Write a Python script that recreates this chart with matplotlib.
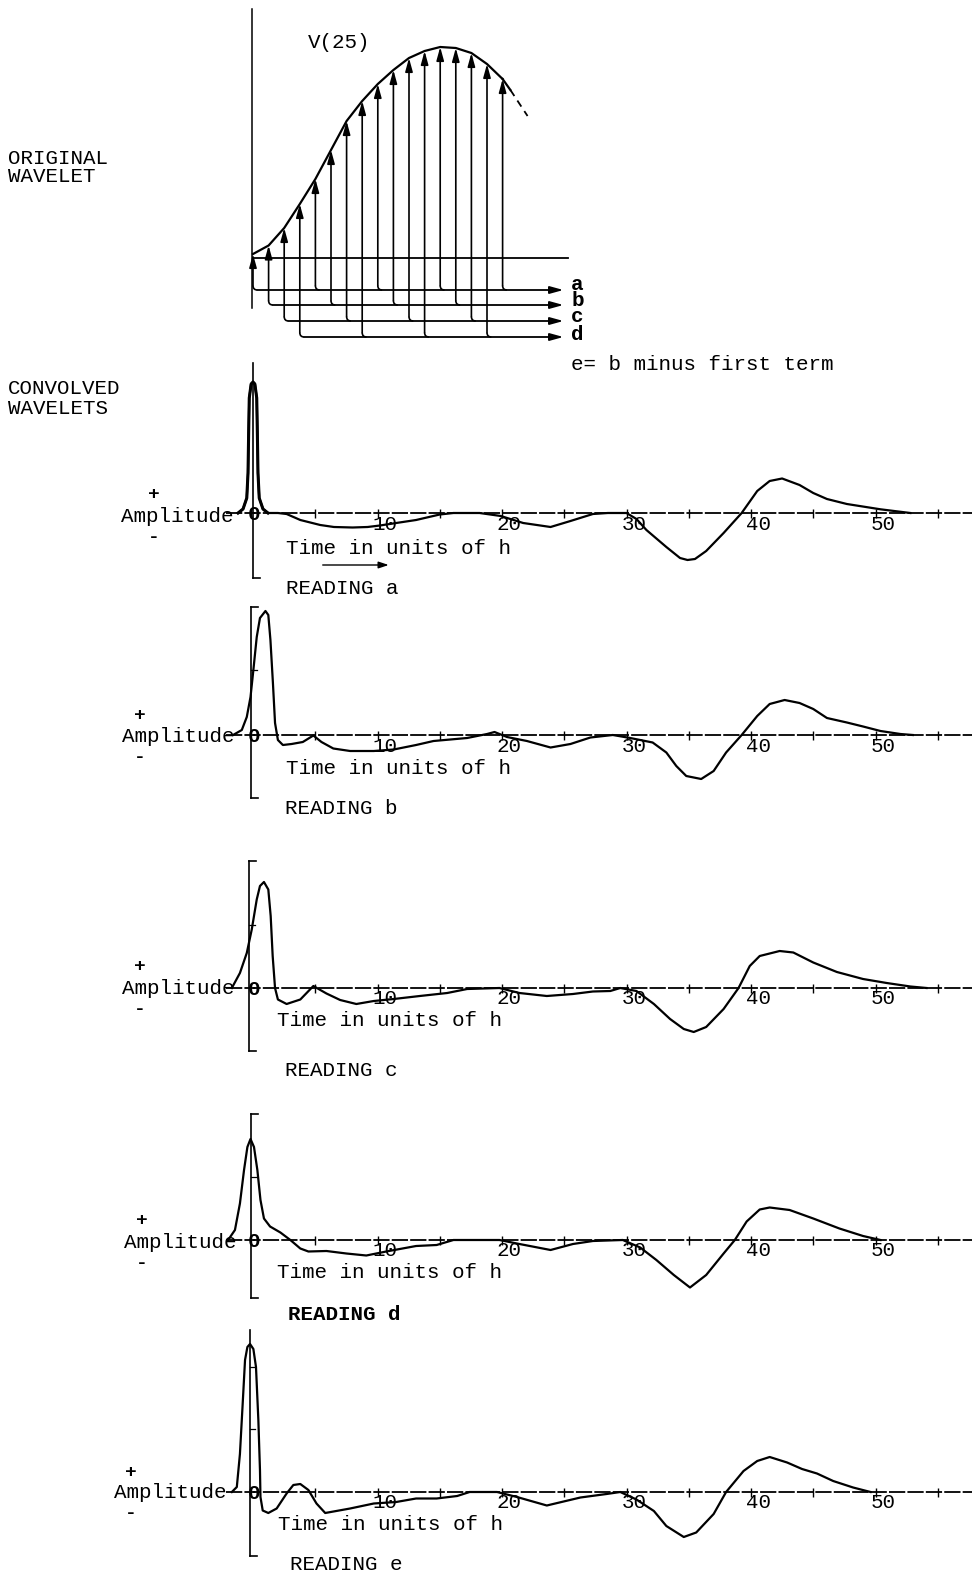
import matplotlib
matplotlib.use("Agg")
import matplotlib.pyplot as plt
from matplotlib.patches import FancyArrowPatch, PathPatch
from matplotlib.path import Path

plt.rcParams['font.family'] = ['Liberation Mono', 'DejaVu Sans Mono']

# ---------------- DATA ----------------
# original wavelet: sampled values (arrow heights) at sample index k = 0..16
wavelet_k = list(range(17))
wavelet_v = [0.4, 1.25, 3.0, 5.4, 7.9, 10.8, 13.7, 15.7, 17.4, 18.8, 20.0,
             20.7, 21.1, 21.0, 20.5, 19.4, 17.9]
wavelet_tail_k = [16, 16.5, 17.6]
wavelet_tail_v = [17.9, 16.8, 14.2]
reading_rows = ['a', 'b', 'c', 'd']

# convolved wavelets (time in units of h, amplitude)
a_t = [-1.2, -0.8, -0.5, -0.4, -0.35, -0.3, -0.15, 0.0, 0.15, 0.3, 0.35, 0.4,
       0.5, 0.8, 1.2, 2.0, 2.7, 3.8, 5.4, 6.5, 8.0, 9.2, 10.2, 11.5, 13.1, 15.0,
       16.1, 18.2, 19.9, 21.7, 23.9, 25.5, 27.3, 28.5, 30.0, 30.8, 31.6, 33.2,
       34.3, 34.9, 35.5, 36.4, 37.8, 39.25, 40.5, 41.5, 42.5, 43.9, 45.0, 46.1,
       47.7, 50.4, 52.8]
a_amp = [0, 0.4, 1.5, 4.0, 8.0, 11.5, 12.9, 13.1, 12.9, 11.5, 8.0, 4.0,
         1.5, 0.4, 0, 0, -0.1, -0.7, -1.2, -1.4, -1.45, -1.4, -1.25, -1.0, -0.7, -0.15,
         0, 0, -0.3, -1.0, -1.4, -0.8, -0.1, 0, 0, -0.6, -1.7, -3.4,
         -4.5, -4.7, -4.6, -3.8, -2.0, 0, 2.2, 3.2, 3.45, 2.8, 2.0, 1.4,
         0.9, 0.37, 0]

b_t = [-1.6, -0.9, -0.5, -0.2, 0.03, 0.3, 0.56, 1.0, 1.23, 1.4, 1.6, 1.77, 2.0,
       2.4, 3.1, 4.0, 4.85, 5.5, 6.45, 7.8, 9.7, 11.3, 13.1, 14.5, 17.2, 18.8,
       19.4, 20.4, 22.0, 23.9, 25.5, 27.1, 28.9, 30.3, 32.1, 33.2, 34.0, 34.8,
       36.0, 37.0, 38.0, 39.25, 40.5, 41.5, 42.7, 43.9, 45.0, 46.1, 47.7, 49.0,
       50.4, 52.0, 53.0]
b_amp = [0, 0.5, 1.8, 3.8, 6.5, 9.8, 11.7, 12.4, 12.0, 9.5, 5.2, 1.2, -0.5,
         -1.0, -0.9, -0.7, -0.05, -0.7, -1.35, -1.6, -1.6, -1.45, -1.0, -0.6, -0.3, 0.1,
         0.3, -0.2, -0.6, -1.25, -0.9, -0.25, 0, -0.3, -0.75, -1.75, -3.1, -4.1,
         -4.4, -3.6, -1.75, 0, 1.9, 3.1, 3.5, 3.2, 2.6, 1.7, 1.25, 0.85,
         0.4, 0.1, 0]

c_t = [-1.7, -1.05, -0.5, -0.1, 0.3, 0.56, 0.88, 1.23, 1.42, 1.58, 1.77, 2.0,
       2.7, 3.8, 4.85, 5.9, 7.0, 8.3, 9.7, 11.3, 13.4, 15.6, 17.2, 19.8, 21.4,
       23.6, 25.7, 27.3, 28.7, 29.5, 30.8, 32.2, 33.5, 34.6, 35.4, 36.4, 37.8,
       39.0, 39.9, 40.7, 42.3, 43.4, 45.0, 46.9, 49.0, 50.9, 52.8, 54.1]
c_amp = [0, 1.5, 3.5, 5.85, 8.85, 10.2, 10.6, 9.85, 7.2, 3.2, 0, -1.15,
         -1.6, -1.15, 0.2, -0.55, -1.2, -1.6, -1.3, -1.1, -0.8, -0.5, -0.1, 0, -0.5,
         -0.8, -0.6, -0.35, -0.3, 0, -0.3, -1.6, -3.1, -4.1, -4.4, -3.9, -2.1,
         0, 2.2, 3.2, 3.7, 3.55, 2.55, 1.6, 0.9, 0.5, 0.15, 0]

d_t = [-2.0, -1.45, -1.05, -0.72, -0.45, -0.2, 0.08, 0.35, 0.6, 0.88, 1.37,
       2.2, 3.0, 3.8, 4.45, 5.9, 7.5, 9.1, 10.7, 13.1, 14.75, 16.1, 19.8, 21.4,
       23.9, 25.7, 27.3, 29.7, 31.1, 32.4, 33.8, 35.1, 36.4, 37.8, 38.7, 39.65,
       40.7, 41.5, 43.1, 45.0, 47.1, 49.0, 50.4]
d_amp = [0, 1.0, 3.65, 7.0, 9.3, 10.1, 9.3, 7.0, 4.0, 2.15, 1.35,
         0.75, 0, -0.85, -1.15, -1.1, -1.35, -1.55, -1.15, -0.6, -0.5, 0, 0, -0.4,
         -1.0, -0.4, -0.1, 0, -0.75, -2.0, -3.5, -4.75, -3.5, -1.35, 0, 1.85,
         3.05, 3.25, 3.0, 2.15, 1.15, 0.4, 0]

e_t = [-1.7, -1.3, -1.05, -0.83, -0.64, -0.45, -0.24, 0.03, 0.24, 0.43, 0.56,
       0.6, 0.78, 1.23, 1.9, 2.7, 3.24, 3.8, 4.45, 5.1, 5.8, 7.8, 9.7, 11.5,
       13.1, 14.75, 16.4, 17.4, 19.6, 21.2, 23.6, 26.3, 28.4, 29.5, 30.8, 32.2,
       33.2, 34.6, 35.6, 37.0, 38.0, 39.4, 40.5, 41.5, 42.9, 44.1, 45.3, 46.6,
       48.2, 49.6]
e_amp = [0, 0.5, 3.8, 8.8, 13.2, 14.5, 14.8, 14.3, 12.5, 7.2, 2.2,
         -0.5, -1.85, -2.1, -1.65, -0.15, 0.7, 0.8, 0.2, -1.15, -2.1, -1.65, -1.15, -1.0,
         -0.65, -0.65, -0.4, 0, 0, -0.5, -1.35, -0.55, -0.2, 0, -0.75, -1.9,
         -3.4, -4.5, -4.05, -2.2, 0, 2.1, 3.1, 3.5, 2.95, 2.3, 1.85, 1.1,
         0.45, 0]

time_ticks = [5, 10, 15, 20, 25, 30, 35, 40, 45, 50, 55]
time_label_pos = [10, 20, 30, 40, 50]
time_labels = ['10', '20', '30', '40', '50']

series = [('a', a_t, a_amp), ('b', b_t, b_amp), ('c', c_t, c_amp),
          ('d', d_t, d_amp), ('e', e_t, e_amp)]

# ---------------- LAYOUT ----------------
W, H = 972, 1585
FS = 15.0
fig = plt.figure(figsize=(W / 100, H / 100), dpi=100)


def ftxt(x, y, s, **kw):
    fig.text(x / W, 1 - y / H, s, va='center', ha='left', fontsize=FS, **kw)


ftxt(8, 158, 'ORIGINAL')
ftxt(8, 177, 'WAVELET')
ftxt(8, 388, 'CONVOLVED')
ftxt(8, 409, 'WAVELETS')
ftxt(571, 365, 'e= b minus first term')

# ---- original wavelet panel ----
axw = fig.add_axes([0, 1 - 380 / H, 1, 380 / H])
axw.set_xlim(-253 / 15.6, (W - 253) / 15.6)
axw.set_ylim(-12.2, 25.8)
axw.axis('off')
axw.patch.set_alpha(0)

axw.plot([-0.06, -0.06], [24.9, -5.0], color='k', lw=1.1)
axw.plot([0, 20.2], [0, 0], color='k', lw=1.3)

row_y = [-3.2, -4.7, -6.3, -7.9]
row_label_y = [-2.6, -4.2, -5.9, -7.7]
rx, ryr = 0.28, 0.45
astyle = '-|>,head_length=0.8,head_width=0.22'
for i, name in enumerate(reading_rows):
    ry = row_y[i]
    ks = wavelet_k[i::4]
    vs = wavelet_v[i::4]
    for k, v in zip(ks, vs):
        p = Path([(k, ry + ryr), (k, ry), (k + rx, ry)],
                 [Path.MOVETO, Path.CURVE3, Path.CURVE3])
        axw.add_patch(PathPatch(p, fc='none', ec='k', lw=1.2))
        axw.add_patch(FancyArrowPatch((k, ry + ryr), (k, v), arrowstyle=astyle,
                                      mutation_scale=10, lw=1.2, color='k',
                                      shrinkA=0, shrinkB=0))
    axw.add_patch(FancyArrowPatch((ks[0] + rx, ry), (19.9, ry), arrowstyle=astyle,
                                  mutation_scale=10, lw=1.3, color='k',
                                  shrinkA=0, shrinkB=0))
    axw.text(20.4, row_label_y[i], name, fontsize=FS, fontweight='bold',
             ha='left', va='center')

axw.plot(wavelet_k, wavelet_v, color='k', lw=1.6, solid_joinstyle='round')
axw.plot(wavelet_tail_k[:2], wavelet_tail_v[:2], color='k', lw=1.6)
axw.plot(wavelet_tail_k[1:], wavelet_tail_v[1:], color='k', lw=1.3, dashes=(4, 3))
axw.text(3.5, 21.6, 'V(25)', fontsize=FS, ha='left', va='center')

# ---- convolved wavelet panels ----
panels = {
    'a': dict(base=513, ax_x=0.0, ax_top=15.0, ax_bot=-6.5, top_foot=False,
              mid_ticks=[], amp=(-10.6, -0.3), plus=(-8.0, 1.9), minus=(-8.0, -2.4),
              time=(2.65, -3.6), reading=(2.65, -7.6), lw=2.2, bold=False),
    'b': dict(base=735, ax_x=-0.15, ax_top=12.8, ax_bot=-6.3, top_foot=True,
              mid_ticks=[6.5], amp=(-10.5, -0.2), plus=(-9.1, 1.95), minus=(-9.1, -2.3),
              time=(2.65, -3.4), reading=(2.6, -7.3), lw=1.5, bold=False),
    'c': dict(base=988, ax_x=-0.3, ax_top=12.75, ax_bot=-6.25, top_foot=True,
              mid_ticks=[6.35], amp=(-10.5, -0.05), plus=(-9.1, 2.1), minus=(-9.1, -2.2),
              time=(1.9, -3.3), reading=(2.6, -8.2), lw=1.5, bold=False),
    'd': dict(base=1240, ax_x=-0.15, ax_top=12.6, ax_bot=-5.8, top_foot=True,
              mid_ticks=[6.3], amp=(-10.35, -0.3), plus=(-8.9, 2.0), minus=(-8.9, -2.3),
              time=(1.9, -3.3), reading=(2.8, -7.5), lw=1.5, bold=True),
    'e': dict(base=1492, ax_x=-0.25, ax_top=16.2, ax_bot=-6.35, top_foot=False,
              mid_ticks=[12.5, 6.3], amp=(-11.15, -0.1), plus=(-9.8, 2.0), minus=(-9.8, -2.2),
              time=(2.0, -3.2), reading=(3.0, -7.3), lw=1.5, bold=False),
}

x_left = -253 / 12.45
x_right = (W - 253) / 12.45
for name, t, amp in series:
    L = panels[name]
    base = L['base']
    ax = fig.add_axes([0, 1 - (base + 90) / H, 1, 265 / H])
    ax.set_xlim(x_left, x_right)
    ax.set_ylim(-9.0, 17.5)
    ax.axis('off')
    ax.patch.set_alpha(0)

    # time axis
    ax.plot([-2.2, x_right], [0, 0], color='k', lw=1.3, dashes=(9, 1.2))
    ax.vlines(time_ticks, -0.45, 0.45, color='k', lw=1.0)
    for pos, lab in zip(time_label_pos, time_labels):
        ax.text(pos + 0.6, -1.1, lab, fontsize=FS, ha='center', va='center')
    ax.text(0.1, -0.15, '0', fontsize=FS, ha='center', va='center', fontweight='bold')

    # amplitude axis (bracket)
    xa = L['ax_x']
    ax.plot([xa, xa], [L['ax_bot'], L['ax_top']], color='k', lw=1.2)
    ax.plot([xa, xa + 0.55], [L['ax_bot'], L['ax_bot']], color='k', lw=1.2)
    if L['top_foot']:
        ax.plot([xa, xa + 0.55], [L['ax_top'], L['ax_top']], color='k', lw=1.2)
    for m in L['mid_ticks']:
        ax.plot([xa, xa + 0.45], [m, m], color='k', lw=0.9)

    # the convolved wavelet
    ax.plot(t, amp, color='k', lw=1.6, solid_joinstyle='round')
    if name == 'a':
        ax.plot(t[:15], amp[:15], color='k', lw=L['lw'], solid_joinstyle='round')

    # texts
    ax.text(*L['amp'], 'Amplitude', fontsize=FS, ha='left', va='center')
    ax.text(*L['plus'], '+', fontsize=FS - 1, ha='center', va='center', fontweight='bold')
    ax.text(*L['minus'], '-', fontsize=FS - 1, ha='center', va='center', fontweight='bold')
    ax.text(*L['time'], 'Time in units of h', fontsize=FS, ha='left', va='center')
    ax.text(*L['reading'], 'READING ' + name, fontsize=FS, ha='left', va='center',
            fontweight='bold' if L['bold'] else 'normal')
    if name == 'a':
        ax.add_patch(FancyArrowPatch((5.6, -5.2), (10.9, -5.2),
                                     arrowstyle='-|>,head_length=0.6,head_width=0.2',
                                     mutation_scale=10, lw=1.0, color='k',
                                     shrinkA=0, shrinkB=0))

fig.savefig('out.png', dpi=100, facecolor='white')
